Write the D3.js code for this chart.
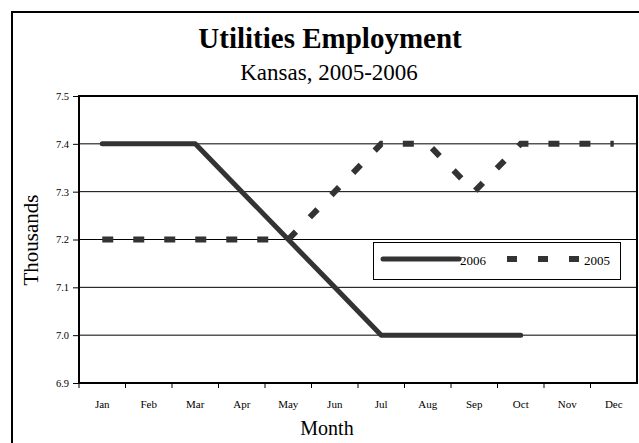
<!DOCTYPE html>
<html>
  <head>
    <meta charset="utf-8">
    <script type="text/javascript" src="https://cdn.jsdelivr.net/npm/d3@7"></script>
    <style>
      body { margin: 0; background: #fff; }
      text { font-family: "Liberation Serif", "Times New Roman", serif; fill: #000; }
    </style>
  </head>
  <body>
    <script type="text/javascript">
      // Chart data
      var months = ["Jan", "Feb", "Mar", "Apr", "May", "Jun", "Jul", "Aug", "Sep", "Oct", "Nov", "Dec"];
      var values2006 = [7.4, 7.4, 7.4, 7.3, 7.2, 7.1, 7.0, 7.0, 7.0, 7.0];
      var values2005 = [7.2, 7.2, 7.2, 7.2, 7.2, 7.3, 7.4, 7.4, 7.3, 7.4, 7.4, 7.4];
      var yTicks = [6.9, 7.0, 7.1, 7.2, 7.3, 7.4, 7.5];

      var width = 639;
      var height = 443;
      var svg = d3.select("body")
                  .append("svg")
                  .attr("width", width)
                  .attr("height", height);

      // Outer frame of the chart
      svg.append("rect")
         .attr("x", 12)
         .attr("y", 12)
         .attr("width", 640)
         .attr("height", 440)
         .attr("fill", "none")
         .attr("stroke", "#000")
         .attr("stroke-width", 2);

      // Plot area (names avoid window.top etc.)
      var plotLeft = 79, plotRight = 637, plotTop = 96, plotBottom = 383;

      var x = d3.scaleBand()
                .domain(months)
                .range([plotLeft, plotRight]);
      var y = d3.scaleLinear()
                .domain([6.9, 7.5])
                .range([plotBottom, plotTop]);

      // Grid lines
      svg.append("g")
         .selectAll("line")
         .data(yTicks.slice(1, -1))
         .enter()
         .append("line")
         .attr("x1", plotLeft)
         .attr("x2", plotRight)
         .attr("y1", function(d) { return y(d); })
         .attr("y2", function(d) { return y(d); })
         .attr("stroke", "#000")
         .attr("stroke-width", 1);

      // Y axis
      var yAxis = d3.axisLeft(y)
                    .tickValues(yTicks)
                    .tickFormat(d3.format(".1f"))
                    .tickSize(6)
                    .tickPadding(4);
      var gy = svg.append("g")
                  .attr("transform", "translate(" + plotLeft + ",0)")
                  .call(yAxis);
      gy.select(".domain").remove();
      gy.selectAll("text")
        .style("font-family", "'Liberation Serif', serif")
        .style("font-size", "10.5px");

      // X axis, ticks on band boundaries
      var xAxis = d3.axisBottom(x)
                    .tickSize(0)
                    .tickPadding(17);
      var gx = svg.append("g")
                  .attr("transform", "translate(0," + plotBottom + ")")
                  .call(xAxis);
      gx.select(".domain").remove();
      gx.selectAll("text")
        .style("font-family", "'Liberation Serif', serif")
        .style("font-size", "11px");
      svg.append("g")
         .selectAll("line")
         .data(months)
         .enter()
         .append("line")
         .attr("x1", function(d) { return x(d); })
         .attr("x2", function(d) { return x(d); })
         .attr("y1", plotBottom)
         .attr("y2", plotBottom + 5)
         .attr("stroke", "#000");

      // Plot border
      svg.append("rect")
         .attr("x", plotLeft)
         .attr("y", plotTop)
         .attr("width", plotRight - plotLeft)
         .attr("height", plotBottom - plotTop)
         .attr("fill", "none")
         .attr("stroke", "#000")
         .attr("stroke-width", 2);

      // Lines
      var line = d3.line()
                   .x(function(d, i) { return x(months[i]) + x.bandwidth() / 2; })
                   .y(function(d) { return y(d); });

      svg.append("path")
         .datum(values2005)
         .attr("d", line)
         .attr("fill", "none")
         .attr("stroke", "#333")
         .attr("stroke-width", 6)
         .attr("stroke-dasharray", "11,20");

      svg.append("path")
         .datum(values2006)
         .attr("d", line)
         .attr("fill", "none")
         .attr("stroke", "#333")
         .attr("stroke-width", 5)
         .attr("stroke-linecap", "round")
         .attr("stroke-linejoin", "round");

      // Legend
      var legend = svg.append("g");
      legend.append("rect")
            .attr("x", 373.5)
            .attr("y", 242.5)
            .attr("width", 247)
            .attr("height", 37)
            .attr("fill", "#fff")
            .attr("stroke", "#000")
            .attr("stroke-width", 1);
      legend.append("line")
            .attr("x1", 383)
            .attr("x2", 459)
            .attr("y1", 259)
            .attr("y2", 259)
            .attr("stroke", "#333")
            .attr("stroke-width", 5)
            .attr("stroke-linecap", "round");
      legend.append("text")
            .attr("x", 460)
            .attr("y", 265)
            .style("font-size", "13px")
            .text("2006");
      legend.append("line")
            .attr("x1", 507)
            .attr("x2", 580)
            .attr("y1", 259)
            .attr("y2", 259)
            .attr("stroke", "#333")
            .attr("stroke-width", 6)
            .attr("stroke-dasharray", "10,21");
      legend.append("text")
            .attr("x", 584)
            .attr("y", 265)
            .style("font-size", "13px")
            .text("2005");

      // Titles
      svg.append("text")
         .attr("x", 330)
         .attr("y", 48)
         .attr("text-anchor", "middle")
         .style("font-size", "29px")
         .style("font-weight", "bold")
         .text("Utilities Employment");
      svg.append("text")
         .attr("x", 329)
         .attr("y", 80)
         .attr("text-anchor", "middle")
         .style("font-size", "23px")
         .text("Kansas, 2005-2006");
      svg.append("text")
         .attr("transform", "translate(38,240) rotate(-90)")
         .attr("text-anchor", "middle")
         .style("font-size", "21px")
         .text("Thousands");
      svg.append("text")
         .attr("x", 327)
         .attr("y", 435)
         .attr("text-anchor", "middle")
         .style("font-size", "20px")
         .text("Month");
    </script>
  </body>
</html>
